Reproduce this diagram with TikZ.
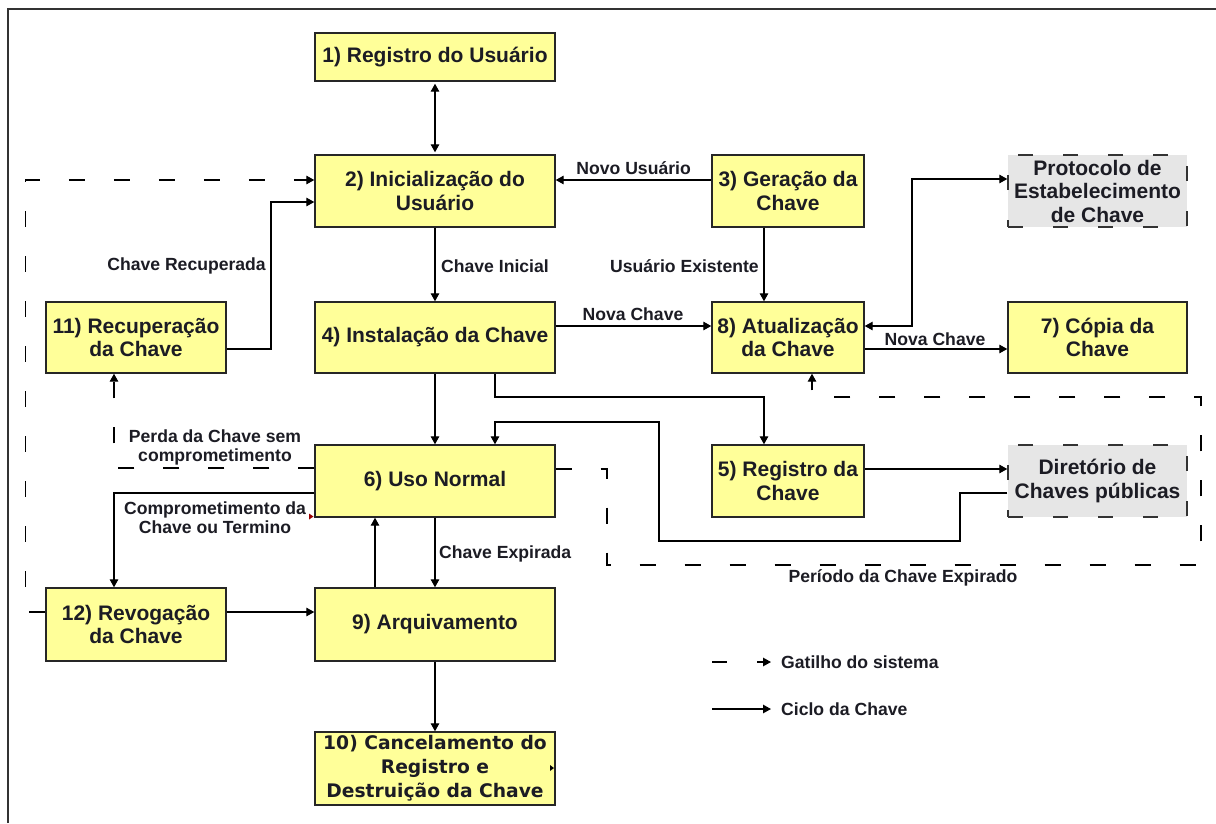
\documentclass[tikz,border=0pt]{standalone}
\usepackage{fontspec}
\setmainfont{Liberation Sans}
\newfontfamily\dejavufam{DejaVu Sans}
\usetikzlibrary{arrows.meta}
\definecolor{boxyellow}{HTML}{FFFF99}
\definecolor{boxgray}{HTML}{E6E6E6}
\definecolor{inkc}{HTML}{1C1C24}
\newcommand\boxfont{\fontsize{21}{23.5}\selectfont\bfseries}
\newcommand\lblfont{\fontsize{17.6}{19}\selectfont\bfseries}
\tikzset{
  box/.style={draw=black!85, line width=1.4pt, fill=boxyellow, font=\boxfont, align=center, inner sep=0pt, text=inkc},
  gbox/.style={draw=black!80, line width=1.4pt, dash pattern=on 15pt off 30pt, fill=boxgray, font=\boxfont, align=center, inner sep=0pt, text=inkc},
  arr/.style={line width=1.3pt, draw=black, -{Triangle[length=8pt,width=8.5pt]}},
  biarr/.style={line width=1.3pt, draw=black, {Triangle[length=8pt,width=8.5pt]}-{Triangle[length=8pt,width=8.5pt]}},
  darr/.style={arr, dash pattern=on 16pt off 29pt},
  lbl/.style={font=\lblfont, text=inkc, inner sep=0pt, align=center},
}
\begin{document}
\begin{tikzpicture}[x=1pt,y=-1pt]
\useasboundingbox[fill=white] (0,0) rectangle (1216,823);
% outer frame
\draw[line width=2pt, black!80] (8,823) -- (8,9) -- (1216,9);

% boxes
\node[box, minimum width=240pt, minimum height=48pt] (b1) at (435,57) {1) Registro do Usuário};
\node[box, minimum width=240pt, minimum height=72pt] (b2) at (435,191) {2) Inicialização do\\Usuário};
\node[box, minimum width=152pt, minimum height=72pt] (b3) at (788,191) {3) Geração da\\Chave};
\node[gbox, minimum width=179pt, minimum height=72pt] (proto) at (1097.5,191) {Protocolo de\\Estabelecimento\\de Chave};
\node[box, minimum width=180pt, minimum height=71pt] (b11) at (136,337.5) {11) Recuperação\\da Chave};
\node[box, minimum width=240pt, minimum height=71pt] (b4) at (435,337.5) {4) Instalação da Chave};
\node[box, minimum width=152pt, minimum height=71pt] (b8) at (788,337.5) {8) Atualização\\da Chave};
\node[box, minimum width=179pt, minimum height=71pt] (b7) at (1097.5,337.5) {7) Cópia da\\Chave};
\node[box, minimum width=240pt, minimum height=72pt] (b6) at (435,481) {6) Uso Normal};
\node[box, minimum width=152pt, minimum height=72pt] (b5) at (788,481) {5) Registro da\\Chave};
\node[gbox, minimum width=179pt, minimum height=72pt] (dir) at (1097.5,481) {Diretório de\\Chaves públicas};
\node[box, minimum width=180pt, minimum height=73pt] (b12) at (136,624.5) {12) Revogação\\da Chave};
\node[box, minimum width=240pt, minimum height=73pt] (b9) at (435,624.5) {9) Arquivamento};
\node[box, minimum width=240pt, minimum height=73pt, font={\dejavufam\bfseries\fontsize{18.7}{24}\selectfont}] (b10) at (435,768.5) {10) Cancelamento do\\Registro e\\Destruição da Chave};

% solid connectors
\draw[biarr] ([yshift=-2pt]b1.south) -- ([yshift=2pt]b2.north);
\draw[arr] (b3.west |- 0,180) -- (b2.east |- 0,180);
\draw[arr] (b3.south -| 764,0) -- (b8.north -| 764,0);
\draw[arr] (b2.south) -- (b4.north);
\draw[arr] (b11.east |- 0,349) -- (271,349) -- (271,202) -- (b2.west |- 0,202);
\draw[arr] (b4.east |- 0,326) -- (b8.west |- 0,326);
\draw[biarr] (proto.west |- 0,179) -- (912,179) -- (912,326) -- (b8.east |- 0,326);
\draw[arr] (b8.east |- 0,349) -- (b7.west |- 0,349);
\draw[arr] (b4.south) -- (b6.north);
\draw[arr] (b4.south -| 495,0) -- (495,397) -- (764,397) -- (b5.north -| 764,0);
\draw[arr] (dir.west |- 0,493) -- (960,493) -- (960,541) -- (659,541) -- (659,422) -- (495,422) -- (b6.north -| 495,0);
\draw[arr] (b5.east |- 0,469) -- (dir.west |- 0,469);
\draw[arr] (b6.west |- 0,493) -- (114,493) -- (b12.north -| 114,0);
\draw[arr] (b6.south) -- (b9.north);
\draw[arr] (b9.north -| 375,0) -- (b6.south -| 375,0);
\draw[arr] (b12.east |- 0,612) -- (b9.west |- 0,612);
\draw[arr] (b9.south) -- (b10.north);

% dashed (system trigger) connectors
\draw[darr] (b6.west |- 0,468) -- (114,468) -- (b11.south -| 114,0);
\draw[darr] (b12.west |- 0,612) -- (25.6,612) -- (25.6,180) -- (b2.west |- 0,180);
\draw[darr] (b6.east |- 0,469) -- (607,469) -- (607,565) -- (1201,565) -- (1201,397) -- (812,397) -- (b8.south -| 812,0);

% small marks
\fill[red!60!black] (309,513.5) -- (313.5,516.5) -- (309,519.5) -- cycle;
\fill[black] (550,765) -- (554,768) -- (550,771) -- cycle;

% labels
\node[lbl, anchor=east] (lnovo) at (691,168) {Novo Usuário};
\node[lbl, anchor=east] (lexist) at (759,266) {Usuário Existente};
\node[lbl, anchor=west] (linic) at (441,266) {Chave Inicial};
\node[lbl, anchor=east] (lrec) at (266,266) {Chave Recuperada};
\node[lbl] (lnova1) at (633,314) {Nova Chave};
\node[lbl] (lnova2) at (935,339) {Nova Chave};
\node[lbl] (lperda) at (215,447.5) {Perda da Chave sem\\comprometimento};
\node[lbl] (lcomp) at (215,518) {Comprometimento da\\Chave ou Termino};
\node[lbl, anchor=west] (lexp) at (439,554) {Chave Expirada};
\node[lbl] (lper) at (903,578) {Período da Chave Expirado};

% legend
\coordinate (lg1a) at (712,662);
\coordinate (lg1b) at (771,662);
\coordinate (lg2a) at (712,709);
\coordinate (lg2b) at (771,709);
\draw[arr, dash pattern=on 15pt off 30pt] (lg1a) -- (lg1b);
\draw[arr] (lg2a) -- (lg2b);
\node[lbl, anchor=west] (lgt1) at (781,662) {Gatilho do sistema};
\node[lbl, anchor=west] (lgt2) at (781,709) {Ciclo da Chave};
\end{tikzpicture}
\end{document}
